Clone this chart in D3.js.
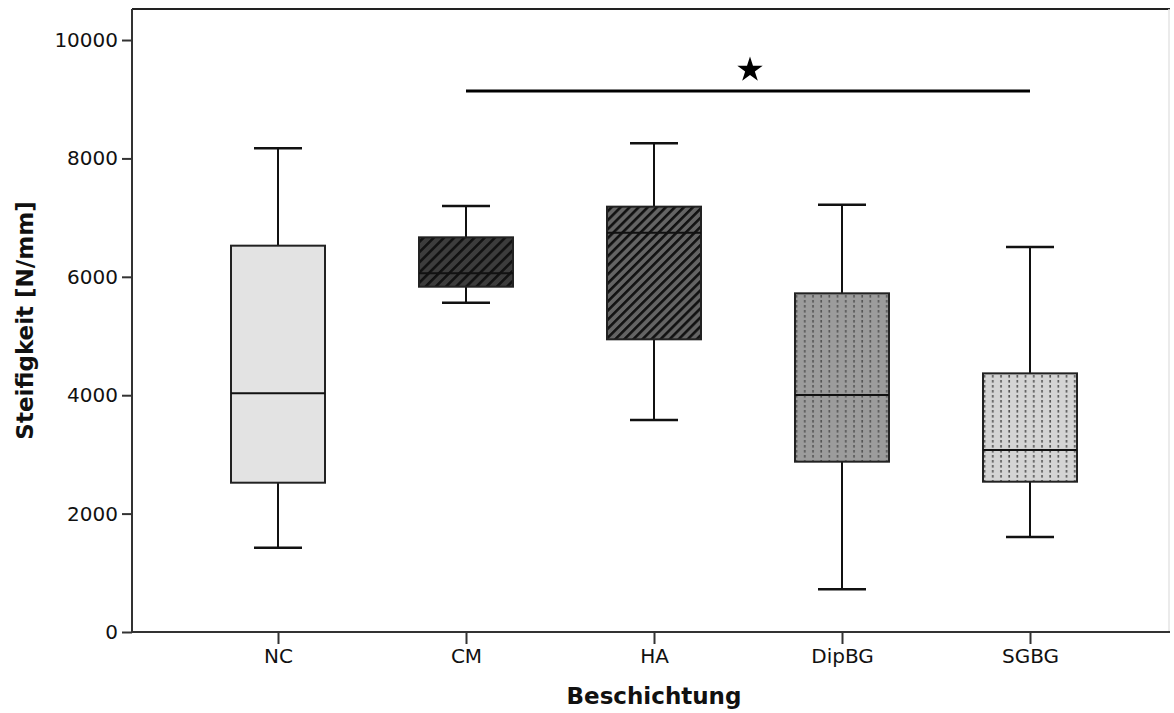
<!DOCTYPE html>
<html>
<head>
<meta charset="utf-8">
<script src="https://cdn.jsdelivr.net/npm/d3@7"></script>
<style>
  body { margin: 0; background: #fff; }
  svg { display: block; font-family: "DejaVu Sans", sans-serif; }
</style>
</head>
<body>
<svg id="chart"></svg>
<script>
// Boxplot data
const categories = ["NC", "CM", "HA", "DipBG", "SGBG"];
const whiskerLow  = [1424, 5563, 3581,  721, 1605];
const q1          = [2522, 5833, 4944, 2877, 2539];
const median      = [4032, 6059, 6745, 4003, 3074];
const q3          = [6526, 6667, 7185, 5721, 4369];
const whiskerHigh = [8171, 7196, 8255, 7218, 6503];
const fills       = ["plain", "hatchDark", "hatchMid", "dotDark", "dotLight"];
const yTicks      = [0, 2000, 4000, 6000, 8000, 10000];
const sigPair     = ["CM", "SGBG"];
const sigLevel    = 9140;

const width = 1174, height = 713;
const margin = {top: 9, right: 4, bottom: 81, left: 132};
const yMax = 10524;

const svg = d3.select("#chart")
  .attr("width", width)
  .attr("height", height);

const x = d3.scalePoint()
  .domain(categories)
  .range([278, 1030]);

const y = d3.scaleLinear()
  .domain([0, yMax])
  .range([height - margin.bottom, margin.top]);

const data = categories.map((c, i) => ({
  key: c, lo: whiskerLow[i], q1: q1[i], med: median[i], q3: q3[i], hi: whiskerHigh[i], fill: fills[i]
}));

// patterns
const defs = svg.append("defs");
function hatch(id, bg, step) {
  const p = defs.append("pattern")
    .attr("id", id)
    .attr("patternUnits", "userSpaceOnUse")
    .attr("width", step).attr("height", step)
    .attr("patternTransform", "rotate(45)");
  p.append("rect").attr("width", step).attr("height", step).attr("fill", bg);
  p.append("rect").attr("width", 2.6).attr("height", step).attr("fill", "#111");
}
function dots(id, bg) {
  const p = defs.append("pattern")
    .attr("id", id)
    .attr("patternUnits", "userSpaceOnUse")
    .attr("width", 8.2).attr("height", 5);
  p.append("rect").attr("width", 8.2).attr("height", 5).attr("fill", bg);
  p.append("rect").attr("x", 3).attr("y", 0).attr("width", 1.6).attr("height", 2.6).attr("fill", "#555");
}
hatch("hatchDark", "#3c3c3c", 7.2);
hatch("hatchMid", "#646464", 6.4);
dots("dotDark", "#9c9c9c");
dots("dotLight", "#d4d4d4");
const fillFor = f => f === "plain" ? "#e3e3e3" : `url(#${f})`;

// frame (top + faint right)
svg.append("line")
  .attr("x1", margin.left).attr("x2", width - margin.right)
  .attr("y1", y(yMax)).attr("y2", y(yMax))
  .attr("stroke", "#222").attr("stroke-width", 2);
svg.append("line")
  .attr("x1", width - margin.right - 1).attr("x2", width - margin.right - 1)
  .attr("y1", y(yMax)).attr("y2", y(0))
  .attr("stroke", "#e4e4e4").attr("stroke-width", 1.5);

// boxes
const boxW = 94, capW = 48;
const g = svg.append("g")
  .selectAll("g")
  .data(data)
  .join("g")
  .attr("transform", d => `translate(${x(d.key)},0)`);

g.append("line")
  .attr("y1", d => y(d.hi)).attr("y2", d => y(d.lo))
  .attr("stroke", "#111").attr("stroke-width", 2);
g.append("line")
  .attr("x1", -capW / 2).attr("x2", capW / 2)
  .attr("y1", d => y(d.hi)).attr("y2", d => y(d.hi))
  .attr("stroke", "#111").attr("stroke-width", 2.5);
g.append("line")
  .attr("x1", -capW / 2).attr("x2", capW / 2)
  .attr("y1", d => y(d.lo)).attr("y2", d => y(d.lo))
  .attr("stroke", "#111").attr("stroke-width", 2.5);
g.append("rect")
  .attr("x", -boxW / 2).attr("width", boxW)
  .attr("y", d => y(d.q3))
  .attr("height", d => y(d.q1) - y(d.q3))
  .attr("fill", d => fillFor(d.fill))
  .attr("stroke", "#222").attr("stroke-width", 2);
g.append("line")
  .attr("x1", -boxW / 2).attr("x2", boxW / 2)
  .attr("y1", d => y(d.med)).attr("y2", d => y(d.med))
  .attr("stroke", "#111").attr("stroke-width", 2);

// axes
const yAxis = svg.append("g")
  .attr("transform", `translate(${margin.left},0)`)
  .call(d3.axisLeft(y).tickValues(yTicks).tickSize(10).tickPadding(4).tickFormat(d3.format("d")))
  .call(g => g.select(".domain").attr("d", `M0,${y(yMax)}V${y(0)}`));
yAxis.selectAll("text").attr("font-size", 20).attr("fill", "#111")
  .attr("font-family", "'DejaVu Sans', sans-serif");

const xAxis = svg.append("g")
  .attr("transform", `translate(0,${y(0)})`)
  .call(d3.axisBottom(x).tickSize(12).tickPadding(5))
  .call(g => g.select(".domain").attr("d", `M${margin.left},0H${width - margin.right}`));
xAxis.selectAll("text").attr("font-size", 20).attr("fill", "#111")
  .attr("font-family", "'DejaVu Sans', sans-serif");

svg.selectAll(".domain").attr("stroke", "#333").attr("stroke-width", 2);
svg.selectAll(".tick line").attr("stroke", "#333").attr("stroke-width", 2);

// axis titles
svg.append("text")
  .attr("x", x("HA")).attr("y", 704)
  .attr("text-anchor", "middle")
  .attr("font-size", 23).attr("font-weight", "bold").attr("fill", "#111")
  .text("Beschichtung");
svg.append("text")
  .attr("transform", `translate(33,${(y(0) + y(yMax)) / 2}) rotate(-90)`)
  .attr("text-anchor", "middle")
  .attr("font-size", 23).attr("font-weight", "bold").attr("fill", "#111")
  .text("Steifigkeit [N/mm]");

// significance marker
svg.append("line")
  .attr("x1", x(sigPair[0])).attr("x2", x(sigPair[1]))
  .attr("y1", y(sigLevel)).attr("y2", y(sigLevel))
  .attr("stroke", "#000").attr("stroke-width", 3);
svg.append("path")
  .attr("d", d3.symbol(d3.symbolStar, 200)())
  .attr("transform", `translate(${(x(sigPair[0]) + x(sigPair[1])) / 2 + 2},${y(sigLevel) - 21})`)
  .attr("fill", "#000");
</script>
</body>
</html>
